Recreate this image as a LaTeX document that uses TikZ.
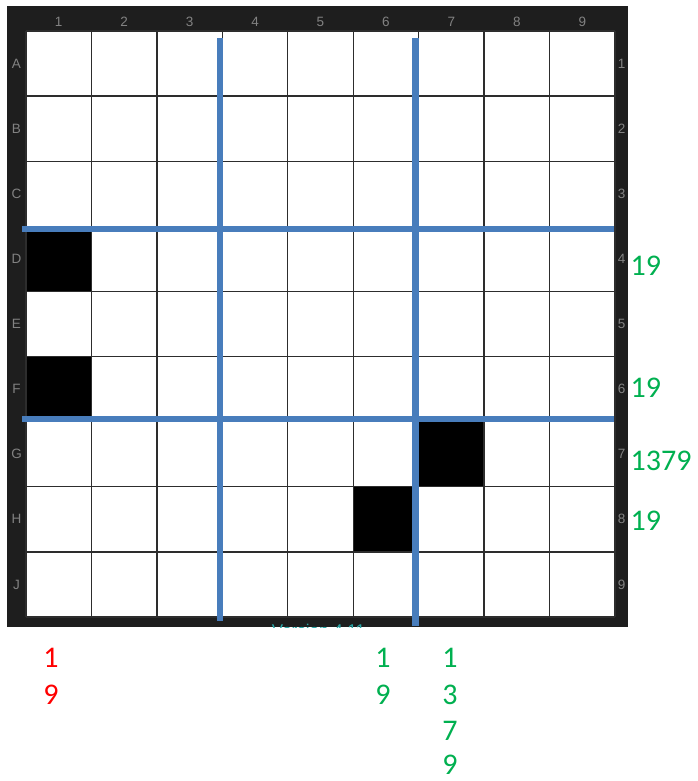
\documentclass[tikz,border=0pt]{standalone}
\usepackage{fontspec}
\setmainfont{Carlito}
\newfontfamily\framefont{Liberation Sans}
\definecolor{framedark}{RGB}{30,30,30}
\definecolor{gridline}{RGB}{45,45,45}
\definecolor{bluel}{RGB}{72,125,188}
\definecolor{greent}{RGB}{0,176,80}
\definecolor{redt}{RGB}{255,0,0}
\definecolor{labelgray}{RGB}{130,130,130}
\definecolor{verteal}{RGB}{40,165,165}
\begin{document}
\begin{tikzpicture}[x=1pt,y=-1pt,
  gridstroke/.style={draw=gridline,line width=1.4pt},
  blackcell/.style={fill=black},
  blueline/.style={draw=bluel,line width=6.5pt},
  framelab/.style={font=\framefont\fontsize{13.5}{15}\selectfont,text=labelgray,inner sep=0pt},
  numlab/.style={font=\fontsize{30}{36}\selectfont,inner sep=0pt},
  greenlab/.style={numlab,text=greent},
  redlab/.style={numlab,text=redt}]
\useasboundingbox (0,0) rectangle (698,781);
\fill[white] (0,0) rectangle (698,781);
% board frame
\fill[framedark] (7,6) rectangle (628,627);
\fill[white] (26,31) rectangle (615,617);
% version text, clipped by frame
\begin{scope}
  \clip (7,6) rectangle (628,627);
  \node[font=\framefont\fontsize{17}{19}\selectfont,text=verteal,inner sep=0pt,anchor=base] (ver) at (318.5,636) {Version 4.11};
\end{scope}
% black cells
\fill[blackcell] (26,226.3) rectangle (91.4,291.4);
\fill[blackcell] (26,356.6) rectangle (91.4,421.7);
\fill[blackcell] (418.7,421.7) rectangle (484.1,486.8);
\fill[blackcell] (353.2,486.8) rectangle (418.7,551.9);
% grid
\foreach \i in {0,...,9} {
  \draw[gridstroke] ({26+\i*65.444},31) -- ({26+\i*65.444},617);
  \draw[gridstroke] (26,{31+\i*65.111}) -- (615,{31+\i*65.111});
}
% frame labels
\foreach \i in {1,...,9} {
  \node[framelab] (col\i) at ({26+(\i-0.5)*65.444},22) {\i};
  \node[framelab] (rnum\i) at (621.5,{31+(\i-0.5)*65.111}) {\i};
}
\foreach \l [count=\j] in {A,B,C,D,E,F,G,H,J} {
  \node[framelab] (row\l) at (16.5,{31+(\j-0.5)*65.111}) {\l};
}
% blue box lines
\draw[blueline] (220,38) -- (220,621);
\draw[blueline] (415.5,38) -- (415.5,626);
\draw[blueline] (22,229) -- (614,229);
\draw[blueline] (22,419) -- (614,419);
% right candidates
\node[greenlab,anchor=base west] (r4) at (630.5,275) {19};
\node[greenlab,anchor=base west] (r6) at (630.5,397) {19};
\node[greenlab,anchor=base west] (r7) at (630.5,470) {1379};
\node[greenlab,anchor=base west] (r8) at (630.5,530) {19};
% bottom candidates
\node[redlab,anchor=base] (c1a) at (51,667) {1};
\node[redlab,anchor=base] (c1b) at (51,704) {9};
\node[greenlab,anchor=base] (c6a) at (383,667) {1};
\node[greenlab,anchor=base] (c6b) at (383,704) {9};
\node[greenlab,anchor=base] (c7a) at (450,667) {1};
\node[greenlab,anchor=base] (c7b) at (450,704) {3};
\node[greenlab,anchor=base] (c7c) at (450,740) {7};
\node[greenlab,anchor=base] (c7d) at (450,774) {9};
\end{tikzpicture}
\end{document}
